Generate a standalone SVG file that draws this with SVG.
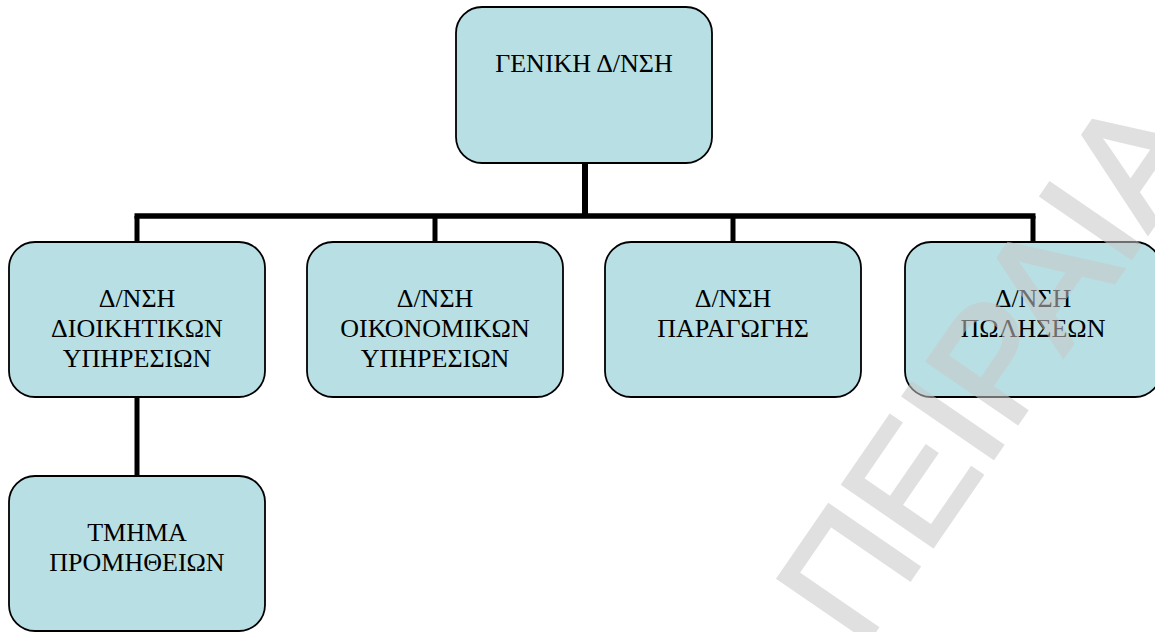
<svg xmlns="http://www.w3.org/2000/svg" width="1155" height="632" viewBox="0 0 1155 632">
<style>
.box{fill:#b8dfe3;stroke:#000;stroke-width:1.8}
.lbl{font-family:'Liberation Serif','Times New Roman',serif;font-size:26px;fill:#000;text-anchor:middle}
.con{stroke:#000;fill:none;stroke-linecap:butt}
.wm{font-family:'Liberation Sans',Arial,sans-serif;font-size:158px;fill:#c8c8c8;stroke:#c8c8c8;stroke-width:4}
</style>
<rect width="1155" height="632" fill="#fff"/>
<g id="connectors">
<line class="con" x1="585" y1="163" x2="585" y2="216" stroke-width="6"/>
<line class="con" x1="134.5" y1="216" x2="1035.5" y2="216" stroke-width="5.5"/>
<line class="con" x1="137" y1="216" x2="137" y2="242" stroke-width="5"/>
<line class="con" x1="435" y1="216" x2="435" y2="242" stroke-width="5"/>
<line class="con" x1="733" y1="216" x2="733" y2="242" stroke-width="5"/>
<line class="con" x1="1033" y1="216" x2="1033" y2="242" stroke-width="5"/>
<line class="con" x1="137" y1="397" x2="137" y2="476" stroke-width="5"/>
</g>
<g id="n0">
<rect class="box" x="456" y="7" width="256" height="156" rx="26"/>
<text class="lbl" x="584" y="72">ΓΕΝΙΚΗ Δ/ΝΣΗ</text>
</g>
<g id="n1">
<rect class="box" x="9" y="242" width="256" height="155" rx="26"/>
<text class="lbl" x="137" y="307">Δ/ΝΣΗ</text>
<text class="lbl" x="137" y="337">ΔΙΟΙΚΗΤΙΚΩΝ</text>
<text class="lbl" x="137" y="367">ΥΠΗΡΕΣΙΩΝ</text>
</g>
<g id="n2">
<rect class="box" x="307" y="242" width="256" height="155" rx="26"/>
<text class="lbl" x="435" y="307">Δ/ΝΣΗ</text>
<text class="lbl" x="435" y="337">ΟΙΚΟΝΟΜΙΚΩΝ</text>
<text class="lbl" x="435" y="367">ΥΠΗΡΕΣΙΩΝ</text>
</g>
<g id="n3">
<rect class="box" x="605" y="242" width="256" height="155" rx="26"/>
<text class="lbl" x="733" y="307">Δ/ΝΣΗ</text>
<text class="lbl" x="733" y="337">ΠΑΡΑΓΩΓΗΣ</text>
</g>
<g id="n4">
<rect class="box" x="905" y="242" width="256" height="155" rx="26"/>
<text class="lbl" x="1033" y="307">Δ/ΝΣΗ</text>
<text class="lbl" x="1033" y="337">ΠΩΛΗΣΕΩΝ</text>
</g>
<g id="n5">
<rect class="box" x="9" y="476" width="256" height="155" rx="26"/>
<text class="lbl" x="137" y="541">ΤΜΗΜΑ</text>
<text class="lbl" x="137" y="571">ΠΡΟΜΗΘΕΙΩΝ</text>
</g>
<g id="watermark" opacity="0.55">
<text class="wm" x="861" y="650.5" transform="rotate(-55.5 861 650.5)">ΠΕΙΡΑΙΑ</text>
</g>
</svg>
